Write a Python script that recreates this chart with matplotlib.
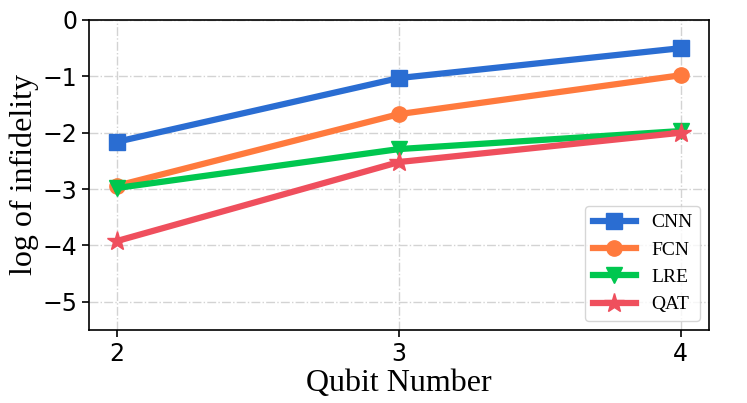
import matplotlib
matplotlib.use("Agg")
import matplotlib.pyplot as plt

qubits = [2, 3, 4]
cnn = [-2.16, -1.03, -0.50]
fcn = [-2.94, -1.67, -0.98]
lre = [-2.98, -2.29, -1.97]
qat = [-3.92, -2.52, -2.00]

series = [
    ("CNN", cnn, "#2a6dd2", "s"),
    ("FCN", fcn, "#ff7a3d", "o"),
    ("LRE", lre, "#00c74f", "v"),
    ("QAT", qat, "#ef4f5d", "*"),
]

fig = plt.figure(figsize=(7.47, 4.03), dpi=100)
ax = fig.add_axes([89/747, 1-330/403, (709-89)/747, (330-20)/403])
for name, vals, col, mk in series:
    ms = 15 if mk == "*" else 11
    ax.plot(qubits, vals, color=col, marker=mk, lw=4.5, ms=ms, label=name)

ax.set_xlim(1.9, 4.1)
ax.set_ylim(-5.5, 0)
ax.set_xticks(qubits)
ax.set_yticks([0, -1, -2, -3, -4, -5])
ax.set_yticklabels(["0", "\u22121", "\u22122", "\u22123", "\u22124", "\u22125"])
ax.tick_params(labelsize=17, length=5, width=1.2)
ax.grid(True, linestyle="-.", color="#d3d3d3", lw=1)
ax.set_axisbelow(True)
for s in ax.spines.values():
    s.set_linewidth(1.2)
ax.set_xlabel("Qubit Number", fontsize=23, family="Liberation Serif", labelpad=2)
ax.set_ylabel("log of infidelity", fontsize=23, family="Liberation Serif", labelpad=2)
ax.legend(loc="lower right", prop={"family": "Liberation Serif", "size": 14}, handlelength=2.2,
          fancybox=True, borderaxespad=0.45)
fig.savefig("out.png", dpi=100)
